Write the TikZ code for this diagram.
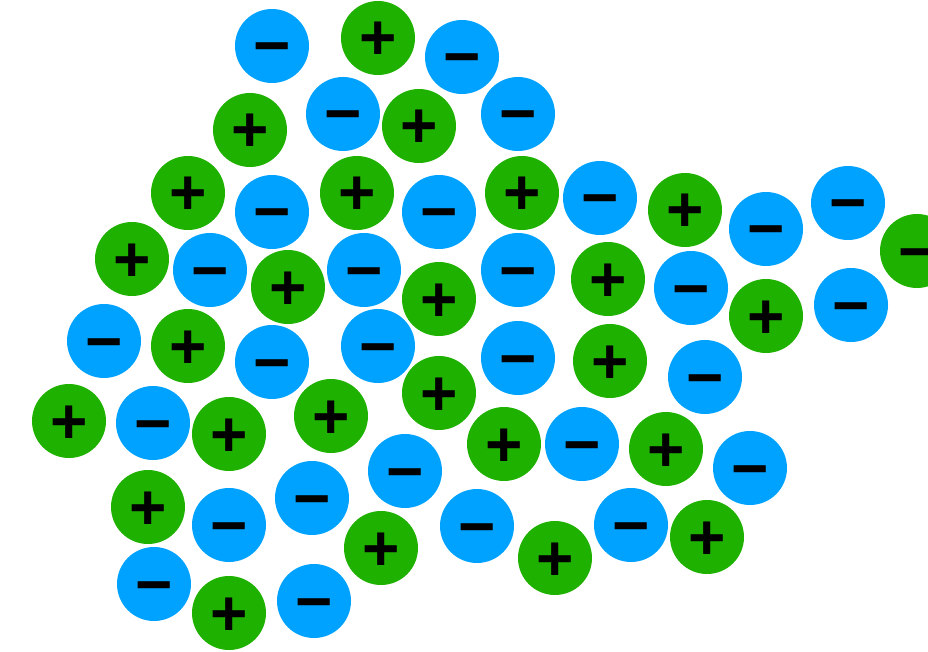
\documentclass[tikz,border=0pt]{standalone}
\usepackage{fontspec}
\newfontfamily\signfont{Liberation Sans}
\definecolor{ionblue}{RGB}{0,162,255}
\definecolor{iongreen}{RGB}{31,177,0}
\begin{document}
\begin{tikzpicture}[x=1pt,y=-1pt,
  ion/.style={circle,inner sep=0pt,minimum size=74pt,
    font=\signfont\bfseries\fontsize{64}{64}\selectfont,
    text height=47pt,text depth=3pt},
  cation/.style={ion,fill=iongreen},
  anion/.style={ion,fill=ionblue}]
\useasboundingbox (0,0) rectangle (928,652);
\node[anion] (a1) at (272,46) {−};
\node[cation] (a2) at (378,38) {+};
\node[anion] (a3) at (462,57) {−};
\node[cation] (a4) at (250,130) {+};
\node[anion] (a5) at (343,114) {−};
\node[cation] (a6) at (419,126) {+};
\node[anion] (a7) at (518,114) {−};
\node[cation] (a8) at (188,193) {+};
\node[anion] (a9) at (272,212) {−};
\node[cation] (a10) at (357,193) {+};
\node[anion] (a11) at (439,212) {−};
\node[cation] (a12) at (522,193) {+};
\node[anion] (a13) at (600,198) {−};
\node[cation] (a14) at (685,210) {+};
\node[anion] (a15) at (766,229) {−};
\node[anion] (a16) at (848,203) {−};
\node[cation] (a17) at (917,251) {−};
\node[cation] (a18) at (132,259) {+};
\node[anion] (a19) at (210,270) {−};
\node[cation] (a20) at (288,287) {+};
\node[anion] (a21) at (364,270) {−};
\node[cation] (a22) at (439,299) {+};
\node[anion] (a23) at (518,270) {−};
\node[cation] (a24) at (608,279) {+};
\node[anion] (a25) at (691,288) {−};
\node[cation] (a26) at (766,316) {+};
\node[anion] (a27) at (851,305) {−};
\node[anion] (a28) at (104,341) {−};
\node[cation] (a29) at (188,346) {+};
\node[anion] (a30) at (272,362) {−};
\node[anion] (a31) at (378,346) {−};
\node[anion] (a32) at (518,358) {−};
\node[cation] (a33) at (610,361) {+};
\node[anion] (a34) at (705,377) {−};
\node[cation] (a35) at (69,421) {+};
\node[anion] (a36) at (153,423) {−};
\node[cation] (a37) at (229,434) {+};
\node[cation] (a38) at (331,416) {+};
\node[cation] (a39) at (439,393) {+};
\node[cation] (a40) at (504,444) {+};
\node[anion] (a41) at (582,444) {−};
\node[cation] (a42) at (666,449) {+};
\node[anion] (a43) at (750,468) {−};
\node[anion] (a44) at (405,471) {−};
\node[cation] (a45) at (148,507) {+};
\node[anion] (a46) at (229,525) {−};
\node[anion] (a47) at (312,498) {−};
\node[anion] (a48) at (477,526) {−};
\node[anion] (a49) at (631,525) {−};
\node[cation] (a50) at (707,537) {+};
\node[cation] (a51) at (381,548) {+};
\node[cation] (a52) at (555,558) {+};
\node[anion] (a53) at (154,584) {−};
\node[cation] (a54) at (229,613) {+};
\node[anion] (a55) at (314,601) {−};
\end{tikzpicture}
\end{document}
